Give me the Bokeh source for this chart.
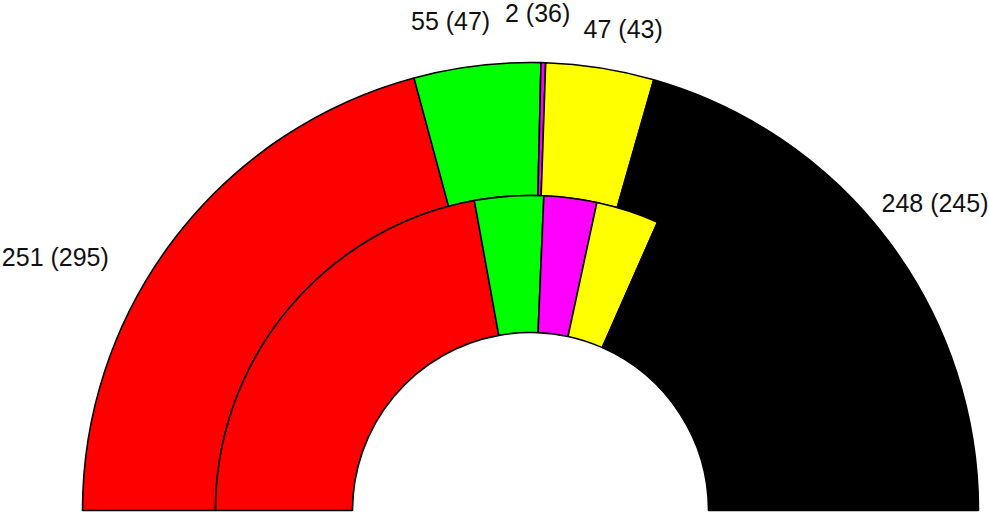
import math

from bokeh.core.properties import value
from bokeh.embed import file_html
from bokeh.models import ColumnDataSource, Range1d
from bokeh.plotting import figure
from bokeh.resources import INLINE

# Seat counts: current result (outer ring) and previous result (inner ring)
parties = ["Red", "Green", "Magenta", "Yellow", "Black"]
seats_now = [251, 55, 2, 47, 248]
seats_before = [295, 47, 36, 43, 245]
colors = ["#ff0000", "#00ff00", "#ff00ff", "#ffff00", "#000000"]

# Ring geometry (data units == screen pixels)
R_OUT = 448
R_MID = 315
R_IN = 178
LABEL_R = 1.1 * R_OUT

# Per-label nudges in screen pixels (x right, y down) so labels don't collide
label_nudge_x = [-84, -21, -7, 16, 11]
label_nudge_y = [46, 0, -5, 5, -11]


def half_ring(values):
    total = float(sum(values))
    starts, ends, mids = [], [], []
    acc = 0.0
    for v in values:
        a_hi = math.pi - acc / total * math.pi
        acc += v
        a_lo = math.pi - acc / total * math.pi
        starts.append(a_lo)
        ends.append(a_hi)
        mids.append(0.5 * (a_lo + a_hi))
    return starts, ends, mids


o_start, o_end, o_mid = half_ring(seats_now)
i_start, i_end, i_mid = half_ring(seats_before)

outer = ColumnDataSource(dict(start=o_start, end=o_end, color=colors, party=parties))
inner = ColumnDataSource(dict(start=i_start, end=i_end, color=colors, party=parties))

labels = ColumnDataSource(dict(
    x=[LABEL_R * math.cos(a) for a in o_mid],
    y=[LABEL_R * math.sin(a) for a in o_mid],
    text=[f"{n} ({b})" for n, b in zip(seats_now, seats_before)],
    dx=label_nudge_x,
    dy=label_nudge_y,
))

p = figure(
    width=989, height=512,
    x_range=Range1d(-530, 459), y_range=Range1d(-2, 510),
    output_backend="svg", toolbar_location=None,
    min_border=0, outline_line_color=None,
    background_fill_color="white", border_fill_color="white",
)
p.axis.visible = False
p.grid.visible = False

p.annular_wedge(
    x=0, y=0, inner_radius=R_MID, outer_radius=R_OUT,
    start_angle="start", end_angle="end", direction="anticlock",
    fill_color="color", line_color="black", line_width=1.6, source=outer,
)
p.annular_wedge(
    x=0, y=0, inner_radius=R_IN, outer_radius=R_MID,
    start_angle="start", end_angle="end", direction="anticlock",
    fill_color="color", line_color="black", line_width=1.6, source=inner,
)

p.text(
    x="x", y="y", text="text", x_offset="dx", y_offset="dy", source=labels,
    text_align="center", text_baseline="middle",
    text_font=value("Liberation Sans"), text_font_size="25px", text_color="#111111",
)

open("out.html", "w").write(file_html(p, INLINE))
